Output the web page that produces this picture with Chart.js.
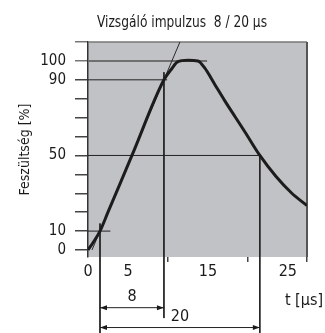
<!DOCTYPE html>
<html>
<head>
<meta charset="utf-8">
<script src="https://cdn.jsdelivr.net/npm/chart.js@4.4.1/dist/chart.umd.min.js"></script>
<style>
  html, body { margin: 0; padding: 0; background: #fff; }
  #wrap { width: 325px; height: 333px; }
</style>
</head>
<body>
<div id="wrap"><canvas id="pulseChart"></canvas></div>
<script>
// 8/20 µs test impulse: voltage (%) over time (µs)
const pulseTime    = [0, 0.6, 1.5, 2.5, 5.5, 9.5, 10.5, 11.2, 12.5, 13.75, 14.6, 15.9, 17.1, 18.4, 19.7, 21.5, 23.5, 25.5, 27.4];
const pulseVoltage = [0, 3.7, 10, 20, 50, 90, 96, 99.5, 100.3, 100, 96.3, 87.3, 79, 70.5, 62, 50, 39, 30, 23.5];

// virtual front line through the 10 % and 90 % points
const frontTime    = [0.5, 11.5];
const frontVoltage = [0, 110];

// horizontal reference levels and where each one stops
const refLevels    = [10, 50, 90, 100];
const refLevelEnds = [2.8, 21.5, 9.9, 14.9];

// vertical markers (time, upper end, lower end)
const markerTimes   = [1.5, 9.5, 21.5];
const markerTops    = [14, 94, 50];
const markerBottoms = [-44, -36, -44];

// dimension arrows: front time and time to half value
const spanStart  = 1.5;
const spanEnds   = [9.5, 21.5];
const spanLevels = [-30.5, -41];
const spanLabels = ['8', '20'];

// axes
const xTicks  = [0, 5, 10, 15, 20, 25, 27.4];
const xLabels = [0, 5, 15, 25];
const yTicks  = [0, 10, 20, 30, 40, 50, 60, 70, 80, 90, 100, 110];
const yLabels = [0, 10, 50, 90, 100];

const FONT = '"Liberation Sans Narrow", "DejaVu Sans Condensed", sans-serif';
Chart.defaults.font.family = FONT;
Chart.defaults.color = '#1a1a1a';

const datasets = [];

datasets.push({
    data: pulseTime.map((t, i) => ({ x: t, y: pulseVoltage[i] })),
    borderColor: '#1c1c1c',
    borderWidth: 3,
    pointRadius: 0,
    cubicInterpolationMode: 'monotone'
});

datasets.push({
    data: frontTime.map((t, i) => ({ x: t, y: frontVoltage[i] })),
    borderColor: '#2a2a2a',
    borderWidth: 1,
    pointRadius: 0
});

refLevels.forEach((lvl, i) => {
    datasets.push({
        data: [{ x: 0, y: lvl }, { x: refLevelEnds[i], y: lvl }],
        borderColor: lvl === 100 ? '#6f6f6f' : '#222',
        borderWidth: lvl === 100 ? 2 : 1,
        pointRadius: 0
    });
});

markerTimes.forEach((t, i) => {
    datasets.push({
        data: [{ x: t, y: markerTops[i] }, { x: t, y: markerBottoms[i] }],
        borderColor: '#222',
        borderWidth: 1,
        pointRadius: 0,
        clip: false
    });
});

spanEnds.forEach((end, i) => {
    datasets.push({
        data: [{ x: spanStart, y: spanLevels[i] }, { x: end, y: spanLevels[i] }],
        borderColor: '#222',
        borderWidth: 1,
        pointRadius: 0,
        clip: false
    });
});

// grey plot background and the top / right frame
const framePlugin = {
    id: 'frame',
    beforeDraw(chart) {
        const { ctx, chartArea: a } = chart;
        ctx.save();
        ctx.fillStyle = '#c1c2c5';
        ctx.fillRect(a.left, a.top, a.right - a.left, a.bottom - a.top);
        ctx.restore();
    },
    beforeDatasetsDraw(chart) {
        const { ctx, chartArea: a } = chart;
        ctx.save();
        ctx.strokeStyle = '#777';
        ctx.lineWidth = 1.5;
        ctx.beginPath();
        ctx.moveTo(a.left, a.top);
        ctx.lineTo(a.right, a.top);
        ctx.stroke();
        ctx.strokeStyle = '#555';
        ctx.lineWidth = 2;
        ctx.beginPath();
        ctx.moveTo(a.right, a.top);
        ctx.lineTo(a.right, a.bottom);
        ctx.stroke();
        ctx.restore();
    }
};

// arrowheads on the dimension lines, title, dimension numbers, time unit
const textPlugin = {
    id: 'texts',
    afterDraw(chart) {
        const { ctx, scales: { x, y } } = chart;
        ctx.save();
        ctx.fillStyle = '#1a1a1a';

        spanEnds.forEach((end, i) => {
            const py = y.getPixelForValue(spanLevels[i]);
            const x0 = x.getPixelForValue(spanStart);
            const x1 = x.getPixelForValue(end);
            ctx.beginPath();
            ctx.moveTo(x0, py);
            ctx.lineTo(x0 + 7, py - 2.5);
            ctx.lineTo(x0 + 7, py + 2.5);
            ctx.closePath();
            ctx.moveTo(x1, py);
            ctx.lineTo(x1 - 7, py - 2.5);
            ctx.lineTo(x1 - 7, py + 2.5);
            ctx.closePath();
            ctx.fill();

            ctx.font = '16px ' + FONT;
            ctx.textAlign = 'center';
            ctx.textBaseline = 'middle';
            ctx.fillText(spanLabels[i], (x0 + x1) / 2, py - 11);
        });

        // title, squeezed to the narrow width of the caption
        const title = 'Vizsgáló impulzus  8 / 20 µs';
        ctx.font = '16px ' + FONT;
        const w = ctx.measureText(title).width;
        const k = Math.min(1, 170 / w);
        ctx.save();
        ctx.translate(182, 23);
        ctx.scale(k, 1);
        ctx.textAlign = 'center';
        ctx.textBaseline = 'middle';
        ctx.fillText(title, 0, 0);
        ctx.restore();

        ctx.textAlign = 'right';
        ctx.textBaseline = 'middle';
        ctx.font = '16px ' + FONT;
        ctx.fillText('t [µs]', 323, y.getPixelForValue(spanLevels[0]) - 7);
        ctx.restore();
    }
};

new Chart(document.getElementById('pulseChart'), {
    type: 'line',
    data: { datasets },
    options: {
        responsive: true,
        maintainAspectRatio: false,
        animation: false,
        layout: { padding: { top: 42, right: 18, left: 0, bottom: 0 } },
        plugins: { legend: { display: false }, tooltip: { enabled: false } },
        scales: {
            x: {
                type: 'linear',
                min: 0,
                max: 27.4,
                afterBuildTicks: s => { s.ticks = xTicks.map(v => ({ value: v })); },
                afterFit: s => { s.height = 76; },
                border: { display: false },
                grid: {
                    drawOnChartArea: false,
                    tickLength: 5,
                    lineWidth: 1.5,
                    tickColor: c => xLabels.includes(c.tick.value) ? 'rgba(0,0,0,0)' : '#444'
                },
                ticks: {
                    padding: 0,
                    maxRotation: 0,
                    autoSkip: false,
                    font: { size: 16 },
                    callback: v => xLabels.includes(v) ? String(v) : ''
                }
            },
            y: {
                min: -3.7,
                max: 110,
                afterBuildTicks: s => { s.ticks = yTicks.map(v => ({ value: v })); },
                afterFit: s => { s.width = 88; },
                border: { display: true, color: '#333', width: 1.5 },
                grid: {
                    drawOnChartArea: false,
                    tickLength: 13,
                    lineWidth: 1.5,
                    tickColor: c => c.tick.value >= 100 ? '#777' : '#444'
                },
                ticks: {
                    padding: 9,
                    autoSkip: false,
                    font: { size: 15 },
                    callback: v => yLabels.includes(v) ? String(v) : ''
                },
                title: {
                    display: true,
                    text: 'Feszültség [%]',
                    font: { size: 14 },
                    padding: { top: 17, bottom: 0 }
                }
            }
        }
    },
    plugins: [framePlugin, textPlugin]
});
</script>
</body>
</html>
